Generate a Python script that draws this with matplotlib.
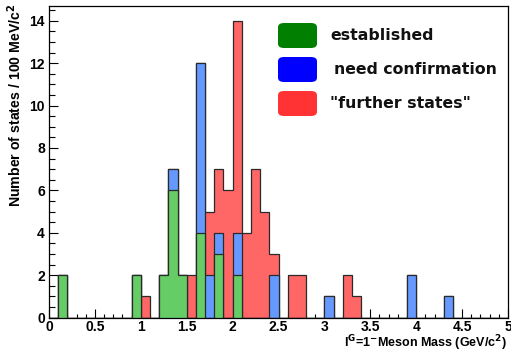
import numpy as np
import matplotlib
matplotlib.use("Agg")
import matplotlib.pyplot as plt
from matplotlib.patches import FancyBboxPatch

# bin lower edges (GeV/c^2), bin width 0.1
bin_edges_low = [0.1, 0.9, 1.0, 1.2, 1.3, 1.4, 1.5, 1.6, 1.7, 1.8, 1.9, 2.0, 2.1,
                 2.2, 2.3, 2.4, 2.6, 2.7, 3.0, 3.2, 3.3, 3.9, 4.3]
established = [2, 2, 0, 2, 6, 2, 0, 4, 0, 3, 0, 2, 0,
               0, 0, 0, 0, 0, 0, 0, 0, 0, 0]
need_confirmation = [0, 0, 0, 0, 1, 0, 0, 8, 2, 1, 0, 2, 0,
                     0, 0, 2, 0, 0, 1, 0, 0, 2, 1]
further_states = [0, 0, 1, 0, 0, 0, 2, 0, 3, 3, 6, 10, 4,
                  7, 5, 1, 2, 2, 0, 2, 1, 0, 0]
legend_labels = ["established", "need confirmation", "\"further states\""]

bin_width = 0.1
n_bins = 50
fill_colors = ["#66cc66", "#6699ff", "#ff6666"]
legend_colors = ["#007f00", "#0000ff", "#ff3333"]

fig = plt.figure(figsize=(5.11, 3.52), dpi=100)
ax = fig.add_axes([49/511, 1-317.5/352, (508-49)/511, (317.5-6)/352])

# full histograms on the 0..5 range, 0.1 GeV bins
edges = np.linspace(0, 5, n_bins + 1)
idx = np.rint(np.array(bin_edges_low) / bin_width).astype(int)
h_e = np.zeros(n_bins); h_e[idx] = established
h_n = np.zeros(n_bins); h_n[idx] = need_confirmation
h_f = np.zeros(n_bins); h_f[idx] = further_states

# stacked (cumulative) histograms drawn from top level down, ROOT THStack style
levels = [(h_e + h_n + h_f, fill_colors[2]),
          (h_e + h_n, fill_colors[1]),
          (h_e, fill_colors[0])]
for z, (vals, col) in enumerate(levels):
    ax.stairs(vals, edges, fill=True, facecolor=col, edgecolor="none", zorder=2 + z)
    ax.stairs(vals, edges, baseline=0, fill=False, color="#2a2a2a",
              linewidth=0.9, zorder=2 + z + 0.5)

ax.set_xlim(0, 5)
ax.set_ylim(0, 14.7)
ax.set_xticks(np.arange(0, 5.01, 0.5))
ax.set_xticks(np.arange(0, 5.01, 0.1), minor=True)
ax.set_yticks(np.arange(0, 14.1, 2))
ax.set_yticks(np.arange(0, 14.7, 0.5), minor=True)
ax.set_xticklabels(["0", "0.5", "1", "1.5", "2", "2.5", "3", "3.5", "4", "4.5", "5"])
ax.tick_params(axis="both", which="major", direction="in", width=0.8,
               top=False, right=False, labelsize=10)
ax.tick_params(axis="both", which="minor", direction="in", width=0.8,
               top=False, right=False)
ax.tick_params(axis="x", which="major", length=6.5, pad=1.5)
ax.tick_params(axis="x", which="minor", length=3)
ax.tick_params(axis="y", which="major", length=6.5, pad=3)
ax.tick_params(axis="y", which="minor", length=4)
for lbl in ax.get_xticklabels() + ax.get_yticklabels():
    lbl.set_family("Liberation Sans")
    lbl.set_fontweight("bold")
for sp in ax.spines.values():
    sp.set_linewidth(0.9)
    sp.set_zorder(10)

fig.text(507/511, 1-343/352, r"I$^{\mathbf{G}}$=1$^{\mathbf{-}}$Meson Mass (GeV/c$^{\mathbf{2}}$)",
         ha="right", va="center", fontsize=9.0, fontweight="bold", family="Liberation Sans")
fig.text(15/511, 1-3/352, r"Number of states / 100 MeV/c$^{\mathbf{2}}$",
         rotation=90, ha="center", va="top", fontsize=10.2, fontweight="bold",
         family="Liberation Sans")

# legend
box_tops = [23, 57, 91]
for i, (lab, col) in enumerate(zip(legend_labels, legend_colors)):
    y0 = box_tops[i]
    patch = FancyBboxPatch((278/511, 1-(y0+25)/352), 39/511, 25/352,
                           boxstyle="round,pad=0,rounding_size=0.012",
                           transform=fig.transFigure, facecolor=col,
                           edgecolor="none", zorder=5)
    fig.patches.append(patch)
    fig.text((330 + (4 if i == 1 else 0))/511, 1-(y0+12.5)/352, lab,
             ha="left", va="center", fontsize=11.3, fontweight="bold",
             family="DejaVu Sans", color="#111111")

fig.savefig("out.png", dpi=100)
